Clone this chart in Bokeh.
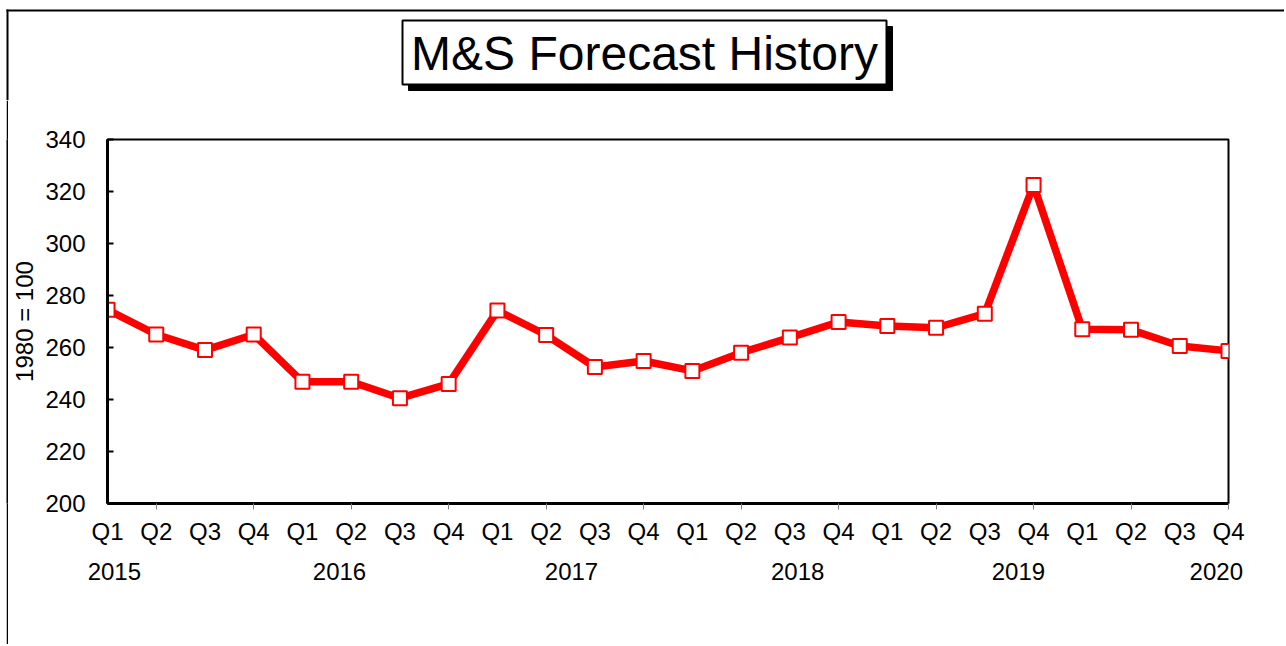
from bokeh.plotting import figure
from bokeh.layouts import column, row
from bokeh.models import ColumnDataSource, FixedTicker, LinearAxis, Range1d, Spacer
from bokeh.core.properties import value
from bokeh.embed import file_html
from bokeh.resources import INLINE

# ---------------- data ----------------
quarters = ["Q1", "Q2", "Q3", "Q4"] * 6
years = ["2015", "2016", "2017", "2018", "2019", "2020"]
values = [274.5, 265.0, 259.0, 265.0, 246.8, 246.8, 240.5, 246.0,
          274.2, 264.8, 252.5, 254.8, 251.0, 258.0, 263.8, 269.8,
          268.3, 267.6, 273.0, 322.5, 267.0, 266.8, 260.6, 258.7]
y_ticks = [200, 220, 240, 260, 280, 300, 320, 340]
title_text = "M&S Forecast History"
y_label = "1980 = 100"

# ---------------- layout ----------------
FONT = "Liberation Sans"
TOTAL_W = 1284
TOP_H = 100
MAIN_H = 544
GAP_W, EDGE_W = 6, 2
n = len(values)
xs = list(range(n))
year_pos = [0.14, 4.76, 9.52, 14.16, 18.69, 22.75]


def bare_fig(w, h, xr, yr, fill="white"):
    f = figure(width=w, height=h, x_range=xr, y_range=yr,
               output_backend="svg", toolbar_location=None,
               x_axis_type=None, y_axis_type=None,
               min_border=0, min_border_left=0, min_border_right=0,
               min_border_top=0, min_border_bottom=0)
    f.outline_line_color = None
    f.grid.visible = False
    f.background_fill_color = fill
    f.border_fill_color = fill
    return f


# ---- top strip: outer frame corner + title box ----
top = bare_fig(TOTAL_W, TOP_H, Range1d(0, TOTAL_W), Range1d(TOP_H, 0))
top.quad(left=[GAP_W], right=[TOTAL_W], top=[9], bottom=[11], fill_color="black", line_color=None)
top.quad(left=[GAP_W], right=[GAP_W + EDGE_W], top=[9], bottom=[TOP_H],
         fill_color="black", line_color=None)
top.quad(left=[408], right=[892], top=[26], bottom=[90], fill_color="black", line_color="black")
top.quad(left=[402], right=[886], top=[20], bottom=[84], fill_color="white",
         line_color="black", line_width=2)
top.text(x=[644], y=[53], text=[title_text], text_align="center", text_baseline="middle",
         text_font=value(FONT), text_font_size="48px", text_color="black")

# ---- left edge of the outer frame ----
edge = bare_fig(EDGE_W, MAIN_H, Range1d(0, 1), Range1d(0, 1), fill="black")

# ---- main chart ----
MW = TOTAL_W - GAP_W - EDGE_W
FL, FT, FW, FH = 107 - GAP_W - EDGE_W, 139 - TOP_H, 1121, 364
p = figure(width=MW, height=MAIN_H, x_range=Range1d(0, n - 1),
           y_range=Range1d(y_ticks[0], y_ticks[-1]),
           output_backend="svg", toolbar_location=None,
           min_border_left=FL, min_border_right=MW - FL - FW,
           min_border_top=FT, min_border_bottom=MAIN_H - FT - FH,
           x_axis_type=None, y_axis_type=None)
p.background_fill_color = "white"
p.border_fill_color = "white"
p.outline_line_color = "black"
p.outline_line_width = 2

yax = LinearAxis(ticker=FixedTicker(ticks=y_ticks))
yax.axis_line_width = 3
yax.axis_line_color = "black"
yax.major_tick_in = 6
yax.major_tick_out = 0
yax.major_tick_line_width = 2
yax.minor_tick_line_color = None
yax.major_label_standoff = 22
yax.major_label_text_font = FONT
yax.major_label_text_font_size = "24px"
yax.major_label_text_color = "black"
yax.axis_label = y_label
yax.axis_label_text_font = FONT
yax.axis_label_text_font_size = "24px"
yax.axis_label_text_font_style = "normal"
yax.axis_label_text_color = "black"
yax.axis_label_standoff = 4
p.add_layout(yax, "left")

xax = LinearAxis(ticker=FixedTicker(ticks=xs, minor_ticks=[i for i in xs if i % 2 == 1]))
xax.major_label_overrides = {i: q for i, q in zip(xs, quarters)}
xax.axis_line_width = 3
xax.axis_line_color = "black"
xax.major_tick_line_color = None
xax.major_tick_in = 0
xax.major_tick_out = 0
xax.minor_tick_line_color = "#808080"
xax.minor_tick_in = 0
xax.minor_tick_out = 6
xax.major_label_standoff = 8
xax.major_label_text_font = FONT
xax.major_label_text_font_size = "24px"
xax.major_label_text_color = "black"
p.add_layout(xax, "below")

yrax = LinearAxis(ticker=FixedTicker(ticks=year_pos))
yrax.major_label_overrides = {pos: y for pos, y in zip(year_pos, years)}
yrax.axis_line_color = None
yrax.major_tick_line_color = None
yrax.minor_tick_line_color = None
yrax.major_tick_in = 0
yrax.major_tick_out = 0
yrax.major_label_standoff = 15
yrax.major_label_text_font = FONT
yrax.major_label_text_font_size = "24px"
yrax.major_label_text_color = "black"
p.add_layout(yrax, "below")

p.xgrid.visible = False
p.ygrid.ticker = FixedTicker(ticks=y_ticks)
p.ygrid.grid_line_color = "#6e6e6e"
p.ygrid.grid_line_width = 1

src = ColumnDataSource(dict(x=xs, y=values))
p.line("x", "y", source=src, line_color="#ff0000", line_width=7.5, line_join="round")
p.scatter("x", "y", source=src, marker="square", size=14, fill_color="white",
          line_color="#ff0000", line_width=2)

layout = column(top, row(Spacer(width=GAP_W, height=MAIN_H), edge, p, spacing=0), spacing=0)
open("out.html", "w").write(file_html(layout, INLINE))
